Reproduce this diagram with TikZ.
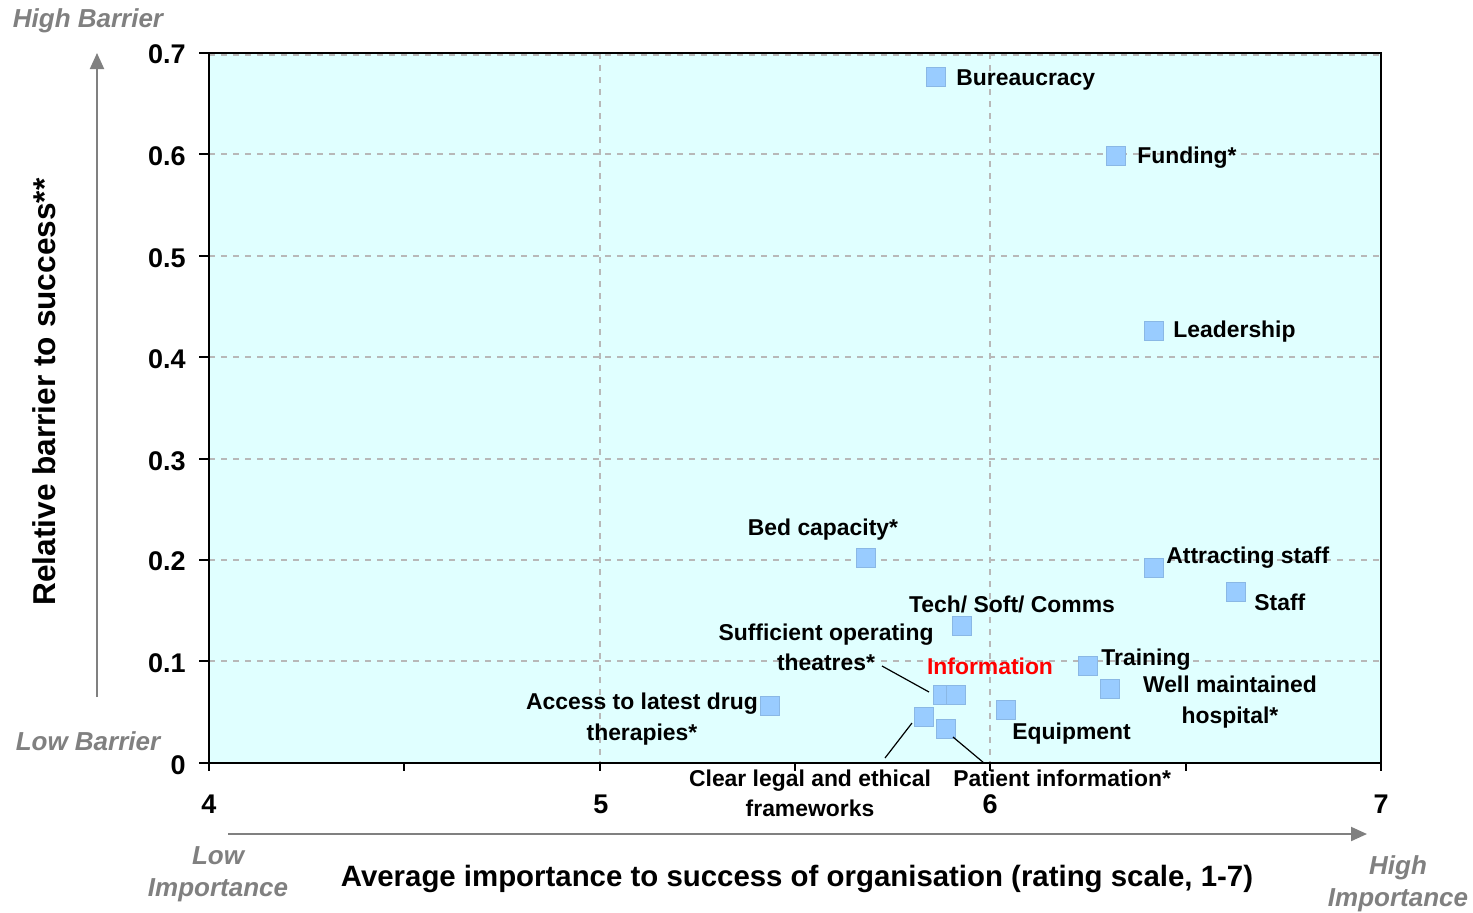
\documentclass[tikz,border=0pt]{standalone}
\usepackage{fontspec}
\setmainfont{Liberation Sans}
\usetikzlibrary{arrows.meta}
\definecolor{plotbg}{HTML}{E0FFFF}
\definecolor{mkblue}{HTML}{99CCFF}
\definecolor{gridgrey}{HTML}{B8B8B8}
\definecolor{axgrey}{HTML}{808080}
\begin{document}
\begin{tikzpicture}[x=0.5pt,y=-0.5pt,
  mk/.style={fill=mkblue, draw=mkblue!90!black, line width=0.3pt, minimum size=9.5pt, inner sep=0pt, outer sep=0pt},
  lab/.style={font=\bfseries\fontsize{11.45}{15.2}\selectfont, inner sep=0pt, align=center},
  tick/.style={font=\bfseries\fontsize{13.5}{15}\selectfont, inner sep=0pt},
  gridl/.style={gridgrey, line width=1pt, dash pattern=on 3pt off 3pt},
  glab/.style={font=\bfseries\itshape\fontsize{13}{16}\selectfont, text=axgrey, inner sep=0pt, align=center},
  title/.style={font=\bfseries\fontsize{14.7}{16}\selectfont, inner sep=0pt},
  leader/.style={black, line width=0.6pt},
  garrow/.style={axgrey, line width=1pt, -{Triangle[width=7pt,length=8pt]}}]
\useasboundingbox (0,0) rectangle (1473,912);
% plot area
\fill[plotbg] (209,53) rectangle (1381,763);
\foreach \yy in {154.4,255.9,357.3,458.6,560,661.4} \draw[gridl] (209,\yy) -- (1381,\yy);
\draw[gridl] (209,55) -- (1381,55);
\draw[gridl] (600,53) -- (600,763);
\draw[gridl] (990,53) -- (990,763);
\draw[black, line width=1pt] (209,53) rectangle (1381,763);
% ticks
\foreach \yy in {53,154.4,255.9,357.3,458.6,560,661.4,763} \draw[black, line width=1pt] (199,\yy) -- (209,\yy);
\foreach \xx in {209,404.3,600,795,990,1185.7,1381} \draw[black, line width=1pt] (\xx,763) -- (\xx,771);
% tick labels
\node[tick, anchor=east] (y7) at (186,54) {0.7};
\node[tick, anchor=east] (y6) at (186,156) {0.6};
\node[tick, anchor=east] (y5) at (186,258) {0.5};
\node[tick, anchor=east] (y4) at (186,359) {0.4};
\node[tick, anchor=east] (y3) at (186,461) {0.3};
\node[tick, anchor=east] (y2) at (186,561) {0.2};
\node[tick, anchor=east] (y1) at (186,663) {0.1};
\node[tick, anchor=east] (y0) at (186,765) {0};
\node[tick] (x4) at (209,804) {4};
\node[tick] (x5) at (601,804) {5};
\node[tick] (x6) at (990,804) {6};
\node[tick] (x7) at (1381,804) {7};
% axis titles
\node[title, rotate=90, font=\bfseries\fontsize{15.8}{17}\selectfont] (ytitle) at (44,392) {Relative barrier to success**};
\node[title] (xtitle) at (797,879) {Average importance to success of organisation (rating scale, 1-7)};
% grey arrows and labels
\coordinate (va0) at (97,697);
\coordinate (va1) at (97,53);
\draw[garrow] (va0) -- (va1);
\coordinate (ha0) at (228,834);
\coordinate (ha1) at (1367,834);
\draw[garrow] (ha0) -- (ha1);
\node[glab] (hb) at (88,21) {High Barrier};
\node[glab] (lb) at (88,741) {Low Barrier};
\node[glab] (li) at (218,874) {Low\\Importance};
\node[glab] (hi) at (1398,884) {High\\Importance};
% markers
\node[mk] (mBur) at (936,77) {};
\node[mk] (mFun) at (1116,156) {};
\node[mk] (mLea) at (1154,331) {};
\node[mk] (mBed) at (866,558) {};
\node[mk] (mAtt) at (1154,568) {};
\node[mk] (mSta) at (1236,592) {};
\node[mk] (mTec) at (962,626) {};
\node[mk] (mThe) at (943,694.5) {};
\node[mk] (mInf) at (956,694.5) {};
\node[mk] (mTra) at (1088,666) {};
\node[mk] (mWel) at (1110,689) {};
\node[mk] (mEqu) at (1006,710) {};
\node[mk] (mAcc) at (770,706) {};
\node[mk] (mCle) at (924,717) {};
\node[mk] (mPat) at (946,728.5) {};
% labels
\node[lab, anchor=west] (lBur) at (956,80) {Bureaucracy};
\node[lab, anchor=west] (lFun) at (1137,158) {Funding*};
\node[lab, anchor=west] (lLea) at (1173,332) {Leadership};
\node[lab] (lBed) at (823,530) {Bed capacity*};
\node[lab, anchor=west] (lAtt) at (1166,558) {Attracting staff};
\node[lab, anchor=west] (lSta) at (1254,602) {Staff};
\node[lab] (lTec) at (1012,604) {Tech/ Soft/ Comms};
\node[lab] (lThe) at (826,647) {Sufficient operating\\theatres*};
\node[lab, text=red] (lInf) at (990,666) {Information};
\node[lab, anchor=west] (lTra) at (1101,660) {Training};
\node[lab] (lWel) at (1230,702) {Well maintained\\hospital*};
\node[lab, anchor=west] (lEqu) at (1012,734) {Equipment};
\node[lab] (lAcc) at (642,719) {Access to latest drug\\therapies*};
\node[lab] (lCle) at (810,793) {Clear legal and ethical\\frameworks};
\node[lab, anchor=west] (lPat) at (953,778) {Patient information*};
% leader lines
\coordinate (tA) at (882,666);
\coordinate (tB) at (929,692);
\draw[leader] (tA) -- (tB);
\coordinate (cA) at (912,723);
\coordinate (cB) at (885,758);
\draw[leader] (cA) -- (cB);
\coordinate (pA) at (953,737);
\coordinate (pB) at (984,763);
\draw[leader] (pA) -- (pB);
\end{tikzpicture}
\end{document}
